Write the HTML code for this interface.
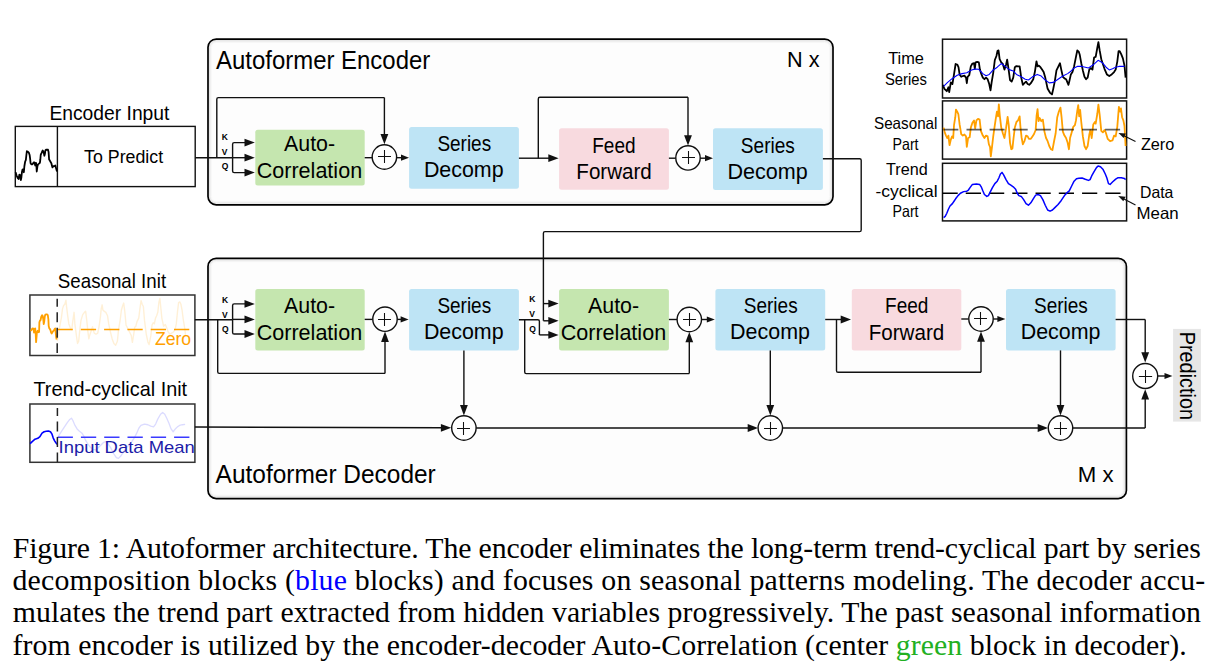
<!DOCTYPE html>
<html><head><meta charset="utf-8"><title>Autoformer</title><style>
html,body{margin:0;padding:0;background:#fff;width:1212px;height:667px;overflow:hidden;}
svg{display:block}
</style></head><body>
<svg width="1212" height="667" viewBox="0 0 1212 667">
<rect width="1212" height="667" fill="#fff"/>

<rect x="208" y="39.1" width="625.00" height="165.70" rx="8.2" fill="#fdfdfd"/>
<rect x="209.60" y="40.70" width="621.80" height="162.50" rx="6.60" fill="none" stroke="#000" stroke-opacity="0.1" stroke-width="1"/>
<rect x="210.60" y="41.70" width="619.80" height="160.50" rx="5.60" fill="none" stroke="#000" stroke-opacity="0.05" stroke-width="1"/>
<rect x="211.60" y="42.70" width="617.80" height="158.50" rx="4.60" fill="none" stroke="#000" stroke-opacity="0.02" stroke-width="1"/>
<rect x="208" y="39.1" width="625.00" height="165.70" rx="8.2" fill="none" stroke="#000" stroke-width="1.7"/>
<rect x="208" y="258.3" width="918.40" height="240.30" rx="8.2" fill="#fdfdfd"/>
<rect x="209.60" y="259.90" width="915.20" height="237.10" rx="6.60" fill="none" stroke="#000" stroke-opacity="0.1" stroke-width="1"/>
<rect x="210.60" y="260.90" width="913.20" height="235.10" rx="5.60" fill="none" stroke="#000" stroke-opacity="0.05" stroke-width="1"/>
<rect x="211.60" y="261.90" width="911.20" height="233.10" rx="4.60" fill="none" stroke="#000" stroke-opacity="0.02" stroke-width="1"/>
<rect x="208" y="258.3" width="918.40" height="240.30" rx="8.2" fill="none" stroke="#000" stroke-width="1.7"/>
<text x="216.00" y="69.00" font-size="24.86" textLength="214.26" lengthAdjust="spacingAndGlyphs" fill="#000" font-family='"Liberation Sans",sans-serif' font-weight="normal" >Autoformer Encoder</text>
<text x="786.98" y="66.80" font-size="21.22" textLength="32.52" lengthAdjust="spacingAndGlyphs" fill="#000" font-family='"Liberation Sans",sans-serif' font-weight="normal" >N x</text>
<text x="1077.75" y="481.80" font-size="21.22" textLength="35.84" lengthAdjust="spacingAndGlyphs" fill="#000" font-family='"Liberation Sans",sans-serif' font-weight="normal" >M x</text>
<text x="215.60" y="482.90" font-size="24.86" textLength="220.17" lengthAdjust="spacingAndGlyphs" fill="#000" font-family='"Liberation Sans",sans-serif' font-weight="normal" >Autoformer Decoder</text>
<text x="49.41" y="119.80" font-size="19.48" textLength="120.00" lengthAdjust="spacingAndGlyphs" fill="#000" font-family='"Liberation Sans",sans-serif' font-weight="normal" >Encoder Input</text>
<rect x="15.3" y="126.4" width="179.9" height="60.2" fill="#fff" stroke="#111" stroke-width="1.4"/>
<path d="M57.40,126.40 L57.40,186.60" fill="none" stroke="#111" stroke-width="1.4" stroke-linejoin="round" />
<text x="84.10" y="163.00" font-size="18.75" textLength="79.05" lengthAdjust="spacingAndGlyphs" fill="#000" font-family='"Liberation Sans",sans-serif' font-weight="normal" >To Predict</text>
<path d="M15.60,172.23 L16.50,175.23 L17.62,177.86 L18.60,178.98 L19.35,174.63 L19.87,177.11 L20.25,175.23 L20.85,180.10 L21.37,177.48 L21.90,172.23 L22.49,169.61 L23.24,169.24 L23.84,172.23 L24.37,166.24 L25.12,161.74 L25.87,159.87 L26.39,154.99 L26.84,151.24 L27.74,151.62 L28.87,152.74 L29.62,154.99 L30.14,158.74 L30.59,163.24 L31.34,164.36 L32.24,164.36 L32.99,163.61 L33.59,162.49 L34.49,162.49 L35.24,165.49 L35.99,162.86 L36.36,164.74 L36.74,171.48 L37.49,165.86 L38.09,164.36 L38.99,163.61 L39.89,162.86 L40.34,159.49 L40.71,154.99 L41.39,153.49 L41.99,151.99 L42.73,150.49 L43.33,151.62 L43.86,153.12 L44.38,155.74 L44.98,153.49 L45.36,150.49 L46.11,149.75 L47.23,149.60 L47.98,149.75 L48.58,151.99 L49.11,159.49 L49.86,160.61 L50.61,162.11 L51.36,163.24 L52.10,166.24 L52.48,167.36 L53.08,166.24 L53.98,166.24 L54.73,165.86 L55.33,165.49 L56.23,168.86 L56.98,171.48" fill="none" stroke="#000" stroke-width="1.8" stroke-linejoin="round"/>
<rect x="255.30" y="129.80" width="109.40" height="55.70" rx="2.5" fill="#c5e6af"/>
<text x="284.00" y="150.90" font-size="21.51" textLength="51.06" lengthAdjust="spacingAndGlyphs" fill="#000" font-family='"Liberation Sans",sans-serif' font-weight="normal" >Auto-</text>
<text x="256.70" y="177.60" font-size="21.51" textLength="105.46" lengthAdjust="spacingAndGlyphs" fill="#000" font-family='"Liberation Sans",sans-serif' font-weight="normal" >Correlation</text>
<rect x="409.10" y="127.10" width="109.80" height="61.70" rx="2.5" fill="#bee4f5"/>
<text x="437.40" y="150.80" font-size="21.51" textLength="53.76" lengthAdjust="spacingAndGlyphs" fill="#000" font-family='"Liberation Sans",sans-serif' font-weight="normal" >Series</text>
<text x="423.91" y="177.30" font-size="21.51" textLength="79.65" lengthAdjust="spacingAndGlyphs" fill="#000" font-family='"Liberation Sans",sans-serif' font-weight="normal" >Decomp</text>
<rect x="559.10" y="128.20" width="109.80" height="61.50" rx="2.5" fill="#f8dadf"/>
<text x="592.22" y="152.90" font-size="21.51" textLength="43.33" lengthAdjust="spacingAndGlyphs" fill="#000" font-family='"Liberation Sans",sans-serif' font-weight="normal" >Feed</text>
<text x="576.34" y="178.80" font-size="21.51" textLength="75.47" lengthAdjust="spacingAndGlyphs" fill="#000" font-family='"Liberation Sans",sans-serif' font-weight="normal" >Forward</text>
<rect x="713.00" y="128.20" width="109.90" height="61.70" rx="2.5" fill="#bee4f5"/>
<text x="740.80" y="153.20" font-size="21.51" textLength="54.07" lengthAdjust="spacingAndGlyphs" fill="#000" font-family='"Liberation Sans",sans-serif' font-weight="normal" >Series</text>
<text x="727.50" y="178.80" font-size="21.51" textLength="80.26" lengthAdjust="spacingAndGlyphs" fill="#000" font-family='"Liberation Sans",sans-serif' font-weight="normal" >Decomp</text>
<path d="M195.20,157.70 L232.60,157.70" fill="none" stroke="#111" stroke-width="1.4" stroke-linejoin="round" />
<path d="M232.60,157.70 L245.50,157.70" fill="none" stroke="#111" stroke-width="1.4" stroke-linejoin="round" />
<polygon points="254.80,157.70 244.50,153.80 244.50,161.60" fill="#111"/>
<path d="M232.60,157.70 L232.60,144.20 Q232.60,142.60 234.20,142.60 L245.50,142.60" fill="none" stroke="#111" stroke-width="1.4" stroke-linejoin="round" />
<polygon points="254.80,142.60 244.50,138.70 244.50,146.50" fill="#111"/>
<path d="M232.60,157.70 L232.60,171.00 Q232.60,172.60 234.20,172.60 L245.50,172.60" fill="none" stroke="#111" stroke-width="1.4" stroke-linejoin="round" />
<polygon points="254.80,172.60 244.50,168.70 244.50,176.50" fill="#111"/>
<path d="M216.80,157.70 L216.80,99.20 Q216.80,97.60 218.40,97.60 L384.40,97.60" fill="none" stroke="#111" stroke-width="1.4" stroke-linejoin="round" />
<path d="M384.40,97.60 L384.40,135.00" fill="none" stroke="#111" stroke-width="1.4" stroke-linejoin="round" />
<polygon points="384.40,144.30 380.50,134.00 388.30,134.00" fill="#111"/>
<path d="M364.70,157.70 L372.30,157.70" fill="none" stroke="#111" stroke-width="1.4" stroke-linejoin="round" />
<circle cx="384.40" cy="157.00" r="12.20" fill="#fff" stroke="#111" stroke-width="1.4"/>
<path d="M378.03,156.50 H390.97 M384.50,150.03 V162.97" stroke="#111" stroke-width="1.05"/>
<path d="M396.50,157.70 L402.00,157.70" fill="none" stroke="#111" stroke-width="1.4" stroke-linejoin="round" />
<polygon points="409.00,157.70 401.00,154.60 401.00,160.80" fill="#111"/>
<path d="M518.90,158.20 L549.30,158.20" fill="none" stroke="#111" stroke-width="1.4" stroke-linejoin="round" />
<polygon points="558.60,158.20 548.30,154.30 548.30,162.10" fill="#111"/>
<path d="M538.30,158.20 L538.30,98.90 Q538.30,97.30 539.90,97.30 L688.00,97.30" fill="none" stroke="#111" stroke-width="1.4" stroke-linejoin="round" />
<path d="M688.00,97.30 L688.00,136.20" fill="none" stroke="#111" stroke-width="1.4" stroke-linejoin="round" />
<polygon points="688.00,145.50 684.10,135.20 691.90,135.20" fill="#111"/>
<path d="M668.90,158.20 L675.80,158.20" fill="none" stroke="#111" stroke-width="1.4" stroke-linejoin="round" />
<circle cx="688.00" cy="157.90" r="12.20" fill="#fff" stroke="#111" stroke-width="1.4"/>
<path d="M682.03,157.50 H694.97 M688.50,151.03 V163.97" stroke="#111" stroke-width="1.05"/>
<path d="M700.20,158.20 L706.00,158.20" fill="none" stroke="#111" stroke-width="1.4" stroke-linejoin="round" />
<polygon points="713.00,158.20 705.00,155.10 705.00,161.30" fill="#111"/>
<path d="M822.90,158.70 L859.60,158.70 Q861.20,158.70 861.20,160.30 L861.20,230.00 Q861.20,231.60 859.60,231.60 L545.00,231.60 Q543.40,231.60 543.40,233.20 L543.40,320.80" fill="none" stroke="#111" stroke-width="1.4" stroke-linejoin="round" />
<text x="221.8" y="139.5" font-size="8.5" font-weight="bold" font-family='"Liberation Sans",sans-serif'>K</text>
<text x="221.8" y="154.5" font-size="8.5" font-weight="bold" font-family='"Liberation Sans",sans-serif'>V</text>
<text x="221.8" y="168.8" font-size="8.5" font-weight="bold" font-family='"Liberation Sans",sans-serif'>Q</text>
<rect x="942.5" y="39.2" width="184.1" height="58.8" fill="#fff" stroke="#111" stroke-width="1.5"/>
<rect x="942.5" y="100.9" width="184.1" height="58.2" fill="#fff" stroke="#111" stroke-width="1.5"/>
<rect x="942.5" y="163.3" width="184.1" height="57.6" fill="#fff" stroke="#111" stroke-width="1.5"/>
<path d="M942.80,84.82 L944.40,88.83 L946.80,91.23 L948.40,87.22 L949.21,92.03 L950.81,82.42 L952.41,84.02 L954.01,74.42 L955.61,64.01 L957.21,64.49 L958.49,67.21 L959.61,74.42 L961.21,76.82 L962.81,76.02 L964.41,75.70 L966.01,77.62 L966.81,83.22 L967.61,76.82 L969.21,75.22 L970.82,66.41 L972.42,63.53 L974.02,63.21 L974.82,68.82 L975.62,62.41 L977.22,61.93 L978.82,62.41 L979.94,69.62 L981.22,73.62 L982.82,77.62 L984.42,79.22 L986.02,77.62 L987.62,79.22 L989.22,84.02 L990.51,90.43 L991.63,82.42 L993.23,72.82 L994.83,60.01 L996.43,56.01 L997.55,50.73 L998.51,50.41 L999.63,59.21 L1001.23,62.41 L1002.83,64.01 L1004.43,69.62 L1006.03,64.81 L1007.15,59.69 L1008.43,68.02 L1010.03,80.02 L1011.64,81.62 L1013.24,77.62 L1014.84,67.21 L1016.44,66.09 L1018.04,66.41 L1019.64,66.41 L1021.24,77.62 L1022.84,84.82 L1024.44,83.22 L1026.04,81.62 L1027.64,84.02 L1029.24,84.82 L1030.84,83.22 L1033.25,79.22 L1034.85,72.02 L1036.45,61.29 L1037.57,66.41 L1038.85,65.61 L1040.45,67.21 L1042.05,69.62 L1043.65,72.02 L1045.25,77.62 L1047.65,88.83 L1050.05,92.83 L1051.97,94.43 L1053.26,88.83 L1054.86,80.82 L1056.46,70.42 L1058.06,67.21 L1059.98,63.21 L1061.26,69.62 L1062.86,76.82 L1064.46,78.42 L1066.06,79.22 L1068.46,84.82 L1069.26,81.62 L1070.86,74.42 L1072.46,72.02 L1074.07,66.41 L1075.67,58.41 L1077.27,50.41 L1078.87,52.01 L1079.67,54.41 L1081.27,63.21 L1082.87,70.42 L1084.47,76.82 L1086.07,79.22 L1087.67,77.62 L1089.27,69.62 L1090.87,68.02 L1092.47,69.62 L1094.07,57.61 L1095.68,56.81 L1097.28,48.01 L1098.40,42.08 L1099.68,50.41 L1101.28,59.21 L1102.88,64.01 L1104.48,68.82 L1106.88,74.42 L1109.28,76.02 L1111.68,74.42 L1114.08,72.02 L1115.69,69.62 L1117.29,61.61 L1118.57,51.21 L1119.69,51.21 L1121.29,54.41 L1122.89,58.41 L1124.49,65.61 L1125.61,77.62" fill="none" stroke="#000" stroke-width="1.8" stroke-linejoin="round"/>
<path d="M943.60,86.42 L947.60,82.42 L952.41,78.42 L957.21,75.22 L962.01,73.62 L966.81,72.82 L971.62,69.94 L974.82,69.14 L978.82,69.30 L982.82,73.62 L986.02,75.70 L989.22,74.42 L993.23,69.94 L997.23,67.21 L1001.23,63.53 L1005.23,66.41 L1009.23,69.62 L1013.24,70.90 L1016.44,74.42 L1021.24,76.82 L1025.24,79.22 L1028.44,80.02 L1032.45,76.82 L1037.25,74.42 L1041.25,76.02 L1045.25,80.02 L1049.25,82.90 L1053.26,82.42 L1058.06,79.22 L1062.86,76.02 L1067.66,73.62 L1070.86,71.22 L1074.07,68.02 L1077.27,66.41 L1082.07,66.41 L1088.47,68.02 L1093.27,64.81 L1098.08,60.33 L1102.08,62.41 L1106.08,67.21 L1109.28,69.94 L1112.48,68.82 L1115.69,67.21 L1118.89,66.41 L1124.49,66.41" fill="none" stroke="#0000ff" stroke-width="1.1" stroke-linejoin="round"/>
<path d="M943.60,127.61 L944.72,132.42 L946.00,135.62 L947.28,138.02 L948.40,135.62 L949.53,145.22 L950.81,139.62 L952.09,136.42 L953.21,138.02 L954.01,125.21 L955.29,117.21 L955.93,109.53 L957.21,111.61 L958.33,114.01 L959.61,124.41 L961.21,134.02 L962.81,135.62 L964.41,134.50 L966.01,136.42 L966.81,146.82 L968.09,138.02 L969.70,137.22 L970.82,127.61 L972.42,122.81 L974.02,120.41 L975.14,128.41 L976.42,120.41 L978.02,118.81 L979.62,119.61 L980.90,130.82 L982.82,135.62 L984.42,138.02 L986.02,135.62 L987.62,136.42 L988.90,144.42 L990.02,146.82 L990.83,156.43 L992.11,146.02 L993.23,136.42 L994.35,128.41 L995.63,119.61 L996.91,111.61 L998.03,116.41 L998.83,104.40 L999.79,115.61 L1001.23,127.61 L1002.83,133.22 L1004.43,138.02 L1006.03,128.41 L1007.63,116.89 L1008.75,125.21 L1010.03,142.82 L1011.32,149.22 L1012.44,148.42 L1013.56,138.02 L1014.84,127.61 L1016.44,122.01 L1018.04,120.41 L1019.64,116.41 L1020.44,126.81 L1021.56,137.22 L1022.84,144.42 L1024.44,141.22 L1026.04,135.62 L1027.64,136.42 L1028.92,138.82 L1030.84,138.82 L1032.45,136.42 L1034.05,134.02 L1035.65,130.02 L1036.61,115.61 L1037.57,109.21 L1038.53,121.21 L1039.65,118.01 L1041.25,121.21 L1042.85,119.61 L1044.45,131.62 L1046.05,138.02 L1047.65,141.22 L1049.25,146.02 L1050.85,149.22 L1052.45,150.02 L1054.06,141.22 L1055.66,133.22 L1057.26,117.21 L1058.86,111.61 L1060.46,107.60 L1061.58,117.21 L1062.86,131.62 L1064.46,135.62 L1066.06,138.02 L1067.66,142.82 L1068.94,149.22 L1070.06,138.02 L1071.66,132.42 L1073.26,126.81 L1074.87,125.21 L1075.99,120.41 L1077.27,110.81 L1078.23,105.20 L1079.19,116.41 L1080.15,110.01 L1081.27,122.01 L1082.87,136.42 L1084.47,146.02 L1086.07,149.22 L1087.67,146.02 L1089.27,134.82 L1090.39,130.02 L1091.67,138.02 L1093.27,124.41 L1094.88,122.01 L1095.68,123.61 L1097.28,114.01 L1098.40,104.72 L1099.68,114.81 L1101.28,130.82 L1102.88,132.42 L1104.48,130.02 L1105.76,132.42 L1107.68,138.82 L1110.08,141.22 L1112.48,140.42 L1114.08,135.62 L1115.69,136.42 L1117.29,126.81 L1118.89,106.80 L1120.01,111.61 L1120.97,108.40 L1122.09,117.21 L1123.37,120.41 L1124.49,126.01 L1125.61,146.02" fill="none" stroke="#ffa000" stroke-width="1.8" stroke-linejoin="round"/>
<path d="M943.4,129.7 H1121" stroke="#000" stroke-opacity="0.62" stroke-width="1.8" stroke-dasharray="15 8.1"/>
<path d="M942.5,193.2 H1121.5" stroke="#000" stroke-width="1.4" stroke-dasharray="15.2 8.06"/>
<path d="M943.60,217.55 L945.20,216.43 L946.80,213.23 L948.40,209.22 L950.01,206.02 L952.41,203.62 L954.01,201.22 L955.61,198.82 L958.01,195.62 L960.41,193.22 L963.61,191.62 L966.81,191.14 L968.41,190.02 L970.02,187.61 L972.42,184.41 L976.42,183.93 L979.62,184.41 L981.22,186.81 L982.82,190.82 L984.42,194.50 L986.82,196.42 L988.42,195.62 L990.02,192.42 L992.43,187.61 L994.83,183.61 L997.23,181.21 L998.83,178.01 L1000.43,174.01 L1002.03,172.41 L1003.63,174.81 L1006.03,179.61 L1008.43,183.61 L1010.83,185.21 L1013.24,186.81 L1015.64,189.21 L1017.24,193.22 L1018.84,195.62 L1021.24,196.42 L1023.64,199.62 L1026.04,203.62 L1028.44,205.22 L1030.84,202.82 L1033.25,198.82 L1035.65,195.14 L1038.05,194.50 L1040.45,195.62 L1042.85,199.62 L1045.25,205.22 L1047.65,210.02 L1050.05,211.15 L1052.45,210.02 L1054.86,207.62 L1058.06,204.42 L1061.26,200.42 L1064.46,195.62 L1066.86,192.90 L1069.26,190.82 L1071.66,186.01 L1074.07,181.21 L1076.47,178.81 L1078.87,178.33 L1082.07,178.01 L1085.27,179.29 L1088.47,180.41 L1090.07,179.61 L1091.67,175.93 L1094.07,171.61 L1096.48,167.60 L1098.08,166.00 L1100.48,166.80 L1102.88,169.21 L1105.28,174.01 L1106.88,178.01 L1108.48,183.61 L1110.08,184.41 L1112.48,182.01 L1115.69,179.13 L1118.09,177.69 L1121.29,177.69 L1124.49,178.49 L1125.61,179.61" fill="none" stroke="#0000ff" stroke-width="1.5" stroke-linejoin="round"/>
<text x="888.20" y="63.70" font-size="16.28" textLength="35.75" lengthAdjust="spacingAndGlyphs" fill="#000" font-family='"Liberation Sans",sans-serif' font-weight="normal" >Time</text>
<text x="885.00" y="84.50" font-size="16.28" textLength="41.92" lengthAdjust="spacingAndGlyphs" fill="#000" font-family='"Liberation Sans",sans-serif' font-weight="normal" >Series</text>
<text x="874.00" y="129.00" font-size="16.28" textLength="63.47" lengthAdjust="spacingAndGlyphs" fill="#000" font-family='"Liberation Sans",sans-serif' font-weight="normal" >Seasonal</text>
<text x="892.53" y="149.70" font-size="16.28" textLength="26.05" lengthAdjust="spacingAndGlyphs" fill="#000" font-family='"Liberation Sans",sans-serif' font-weight="normal" >Part</text>
<text x="886.00" y="175.00" font-size="16.28" textLength="41.64" lengthAdjust="spacingAndGlyphs" fill="#000" font-family='"Liberation Sans",sans-serif' font-weight="normal" >Trend</text>
<text x="875.40" y="196.60" font-size="16.28" textLength="62.16" lengthAdjust="spacingAndGlyphs" fill="#000" font-family='"Liberation Sans",sans-serif' font-weight="normal" >-cyclical</text>
<text x="892.53" y="217.20" font-size="16.28" textLength="26.05" lengthAdjust="spacingAndGlyphs" fill="#000" font-family='"Liberation Sans",sans-serif' font-weight="normal" >Part</text>
<text x="1140.90" y="149.70" font-size="16.28" textLength="33.45" lengthAdjust="spacingAndGlyphs" fill="#000" font-family='"Liberation Sans",sans-serif' font-weight="normal" >Zero</text>
<text x="1140.03" y="197.60" font-size="16.28" textLength="33.34" lengthAdjust="spacingAndGlyphs" fill="#000" font-family='"Liberation Sans",sans-serif' font-weight="normal" >Data</text>
<text x="1136.56" y="218.70" font-size="16.28" textLength="42.12" lengthAdjust="spacingAndGlyphs" fill="#000" font-family='"Liberation Sans",sans-serif' font-weight="normal" >Mean</text>
<path d="M1135.50,141.50 L1124.00,135.70" fill="none" stroke="#111" stroke-width="1.2" stroke-linejoin="round" />
<polygon points="1118.5,133 1125.9,133.6 1123.6,138.1" fill="#111"/>
<path d="M1135.50,205.00 L1124.00,199.00" fill="none" stroke="#111" stroke-width="1.2" stroke-linejoin="round" />
<polygon points="1118.2,196 1125.6,196.8 1123.3,201.2" fill="#111"/>
<text x="57.80" y="287.80" font-size="19.48" textLength="108.33" lengthAdjust="spacingAndGlyphs" fill="#000" font-family='"Liberation Sans",sans-serif' font-weight="normal" >Seasonal Init</text>
<rect x="29.9" y="295" width="165" height="60.5" fill="#fff" stroke="#333" stroke-width="1.5"/>
<text x="33.40" y="396.00" font-size="19.62" textLength="153.74" lengthAdjust="spacingAndGlyphs" fill="#000" font-family='"Liberation Sans",sans-serif' font-weight="normal" >Trend-cyclical Init</text>
<rect x="29.9" y="404" width="165" height="58.3" fill="#fff" stroke="#333" stroke-width="1.5"/>
<path d="M57.31,341.21 L58.47,333.12 L60.20,323.88 L61.35,318.10 L62.51,308.86 L63.66,305.40 L64.82,304.24 L65.97,300.20 L66.55,306.55 L67.71,315.79 L68.86,323.88 L70.59,328.50 L71.75,329.65 L72.90,320.41 L74.06,312.33 L74.87,323.88 L76.37,335.43 L77.53,343.52 L78.68,341.21 L79.84,329.65 L80.99,320.41 L82.72,314.64 L84.46,312.33 L85.61,311.17 L86.77,320.41 L87.92,331.96 L88.85,338.90 L89.65,335.43 L90.81,331.96 L92.54,326.77 L93.12,329.65 L94.27,333.12 L96.01,334.27 L97.74,333.12 L98.90,327.34 L100.28,318.10 L101.21,308.86 L102.13,304.82 L102.94,310.02 L104.09,311.17 L105.83,312.33 L107.56,315.79 L108.71,323.88 L110.45,331.96 L112.18,338.90 L113.91,343.52 L115.64,345.25 L117.38,341.21 L118.53,329.65 L120.27,319.26 L121.42,310.02 L122.58,305.97 L123.73,303.09 L124.89,312.33 L126.04,325.03 L127.77,328.50 L129.51,331.96 L131.24,335.43 L132.39,342.36 L133.55,335.43 L134.70,327.34 L135.86,326.19 L137.01,321.57 L138.75,318.10 L139.90,308.86 L141.06,300.78 L142.21,304.24 L143.37,306.55 L144.52,320.41 L146.26,334.27 L147.99,342.36 L149.14,344.67 L150.88,335.43 L152.03,325.03 L153.19,322.72 L154.34,323.88 L155.50,318.10 L156.65,315.79 L157.81,312.33 L158.96,301.93 L159.89,298.47 L160.69,306.55 L161.85,318.10 L163.58,326.19 L165.32,324.46 L166.47,327.34 L168.20,331.96 L169.94,334.27 L171.67,333.12 L173.40,331.96 L175.13,329.65 L176.29,323.88 L177.44,312.33 L178.60,302.51 L179.75,301.93 L180.91,304.24 L182.06,310.02 L183.22,319.26 L184.95,329.65 L185.53,335.43" fill="none" stroke="#ffa000" stroke-opacity="0.16" stroke-width="1.4" stroke-linejoin="round"/>
<path d="M30.40,330.79 L31.30,330.19 L32.20,328.69 L33.10,328.39 L33.70,329.59 L34.00,332.59 L34.60,328.99 L35.20,328.39 L35.68,333.79 L36.10,342.18 L36.40,338.58 L36.88,332.59 L37.60,330.79 L38.49,332.29 L39.09,331.99 L39.39,322.39 L39.99,320.59 L40.59,319.99 L41.19,316.99 L42.09,315.19 L42.69,315.79 L43.29,319.39 L43.71,324.19 L44.19,321.79 L44.79,316.39 L45.39,314.60 L46.29,314.30 L47.19,314.48 L47.79,315.19 L48.39,319.39 L48.69,325.99 L49.29,328.39 L49.89,328.99 L50.49,330.19 L51.09,332.59 L51.69,333.49 L52.29,332.59 L52.89,331.39 L53.49,330.79 L54.09,330.19 L54.69,328.99 L55.29,328.39 L55.71,332.59 L56.19,337.38 L56.67,339.48" fill="none" stroke="#ffa000" stroke-width="1.8" stroke-linejoin="round"/>
<path d="M57.5,329.5 H190.5" stroke="#ffa000" stroke-width="1.4" stroke-dasharray="15.3 8"/>
<path d="M57.2,298.8 V353" stroke="#222" stroke-width="1.5" stroke-dasharray="10 5.5" stroke-dashoffset="2"/>
<text x="154.90" y="344.80" font-size="17.73" textLength="36.26" lengthAdjust="spacingAndGlyphs" fill="#ffa000" font-family='"Liberation Sans",sans-serif' font-weight="normal" >Zero</text>
<path d="M58.16,436.67 L61.67,431.05 L64.47,426.85 L67.28,422.64 L69.38,419.83 L71.48,418.15 L72.89,420.53 L74.99,425.44 L77.10,428.95 L79.20,431.05 L82.00,433.16 L84.11,436.67 L85.51,440.17 L87.62,443.68 L89.72,446.48 L92.53,449.29 L95.33,449.99 L98.14,447.89 L100.94,445.08 L103.75,442.28 L105.85,441.57 L107.96,443.68 L110.76,447.89 L113.57,453.50 L116.37,457.71 L118.48,458.41 L120.58,456.30 L123.39,452.10 L126.19,447.89 L129.00,445.08 L131.80,441.57 L134.61,437.37 L136.71,433.16 L138.81,428.25 L140.92,425.44 L144.43,424.04 L147.93,424.74 L150.74,426.14 L153.54,426.85 L155.65,424.04 L157.75,419.13 L160.56,414.22 L162.66,412.54 L164.77,414.22 L166.87,418.43 L168.97,423.34 L171.08,428.95 L173.18,431.76 L175.29,428.95 L177.39,426.85 L179.49,425.44 L182.30,424.74 L185.10,424.32" fill="none" stroke="#2020ff" stroke-opacity="0.16" stroke-width="1.3" stroke-linejoin="round"/>
<path d="M30.10,443.68 L32.21,441.57 L35.01,439.19 L37.82,438.35 L39.92,436.67 L42.03,433.16 L44.13,431.76 L46.24,431.33 L48.34,431.05 L50.44,431.76 L51.85,433.86 L53.25,438.07 L54.65,440.87 L56.05,442.98 L57.46,444.38" fill="none" stroke="#0000ff" stroke-width="1.6" stroke-linejoin="round"/>
<path d="M57.6,437.3 H190.5" stroke="#3a3aff" stroke-width="1.4" stroke-dasharray="15.3 8"/>
<path d="M57.4,407.9 V462" stroke="#222" stroke-width="1.5" stroke-dasharray="10 5.5" stroke-dashoffset="2"/>
<text x="58.52" y="453.20" font-size="17.15" textLength="136.25" lengthAdjust="spacingAndGlyphs" fill="#1c1ca8" font-family='"Liberation Sans",sans-serif' font-weight="normal" >Input Data Mean</text>
<rect x="255.30" y="289.00" width="109.40" height="61.40" rx="2.5" fill="#c5e6af"/>
<text x="284.00" y="312.90" font-size="21.51" textLength="51.06" lengthAdjust="spacingAndGlyphs" fill="#000" font-family='"Liberation Sans",sans-serif' font-weight="normal" >Auto-</text>
<text x="256.70" y="339.60" font-size="21.51" textLength="105.46" lengthAdjust="spacingAndGlyphs" fill="#000" font-family='"Liberation Sans",sans-serif' font-weight="normal" >Correlation</text>
<rect x="409.10" y="289.00" width="109.80" height="61.40" rx="2.5" fill="#bee4f5"/>
<text x="437.40" y="312.90" font-size="21.51" textLength="53.76" lengthAdjust="spacingAndGlyphs" fill="#000" font-family='"Liberation Sans",sans-serif' font-weight="normal" >Series</text>
<text x="423.91" y="339.30" font-size="21.51" textLength="79.65" lengthAdjust="spacingAndGlyphs" fill="#000" font-family='"Liberation Sans",sans-serif' font-weight="normal" >Decomp</text>
<rect x="559.10" y="289.00" width="109.80" height="61.40" rx="2.5" fill="#c5e6af"/>
<text x="588.00" y="312.90" font-size="21.51" textLength="51.06" lengthAdjust="spacingAndGlyphs" fill="#000" font-family='"Liberation Sans",sans-serif' font-weight="normal" >Auto-</text>
<text x="560.70" y="339.60" font-size="21.51" textLength="105.46" lengthAdjust="spacingAndGlyphs" fill="#000" font-family='"Liberation Sans",sans-serif' font-weight="normal" >Correlation</text>
<rect x="715.40" y="289.00" width="109.80" height="61.40" rx="2.5" fill="#bee4f5"/>
<text x="743.80" y="312.90" font-size="21.51" textLength="53.86" lengthAdjust="spacingAndGlyphs" fill="#000" font-family='"Liberation Sans",sans-serif' font-weight="normal" >Series</text>
<text x="730.10" y="339.30" font-size="21.51" textLength="79.85" lengthAdjust="spacingAndGlyphs" fill="#000" font-family='"Liberation Sans",sans-serif' font-weight="normal" >Decomp</text>
<rect x="851.80" y="289.00" width="109.50" height="61.40" rx="2.5" fill="#f8dadf"/>
<text x="885.02" y="312.90" font-size="21.51" textLength="43.33" lengthAdjust="spacingAndGlyphs" fill="#000" font-family='"Liberation Sans",sans-serif' font-weight="normal" >Feed</text>
<text x="868.74" y="339.70" font-size="21.51" textLength="75.47" lengthAdjust="spacingAndGlyphs" fill="#000" font-family='"Liberation Sans",sans-serif' font-weight="normal" >Forward</text>
<rect x="1006.00" y="289.00" width="109.60" height="61.40" rx="2.5" fill="#bee4f5"/>
<text x="1034.00" y="312.90" font-size="21.51" textLength="53.86" lengthAdjust="spacingAndGlyphs" fill="#000" font-family='"Liberation Sans",sans-serif' font-weight="normal" >Series</text>
<text x="1020.70" y="339.30" font-size="21.51" textLength="79.75" lengthAdjust="spacingAndGlyphs" fill="#000" font-family='"Liberation Sans",sans-serif' font-weight="normal" >Decomp</text>
<path d="M194.90,319.80 L232.60,319.80" fill="none" stroke="#111" stroke-width="1.4" stroke-linejoin="round" />
<path d="M232.60,319.40 L245.50,319.40" fill="none" stroke="#111" stroke-width="1.4" stroke-linejoin="round" />
<polygon points="254.80,319.40 244.50,315.50 244.50,323.30" fill="#111"/>
<path d="M232.60,319.40 L232.60,305.50 Q232.60,303.90 234.20,303.90 L245.50,303.90" fill="none" stroke="#111" stroke-width="1.4" stroke-linejoin="round" />
<polygon points="254.80,303.90 244.50,300.00 244.50,307.80" fill="#111"/>
<path d="M232.60,319.40 L232.60,332.40 Q232.60,334.00 234.20,334.00 L245.50,334.00" fill="none" stroke="#111" stroke-width="1.4" stroke-linejoin="round" />
<polygon points="254.80,334.00 244.50,330.10 244.50,337.90" fill="#111"/>
<path d="M217.70,319.40 L217.70,371.80 Q217.70,373.40 219.30,373.40 L385.00,373.40" fill="none" stroke="#111" stroke-width="1.4" stroke-linejoin="round" />
<path d="M385.00,373.40 L385.00,340.90" fill="none" stroke="#111" stroke-width="1.4" stroke-linejoin="round" />
<polygon points="385.00,331.60 381.10,341.90 388.90,341.90" fill="#111"/>
<path d="M364.70,319.40 L372.70,319.40" fill="none" stroke="#111" stroke-width="1.4" stroke-linejoin="round" />
<circle cx="385.00" cy="319.20" r="12.20" fill="#fff" stroke="#111" stroke-width="1.4"/>
<path d="M378.03,319.50 H390.97 M384.50,313.03 V325.97" stroke="#111" stroke-width="1.05"/>
<path d="M397.30,319.40 L401.60,319.40" fill="none" stroke="#111" stroke-width="1.4" stroke-linejoin="round" />
<polygon points="408.60,319.40 400.60,316.30 400.60,322.50" fill="#111"/>
<text x="222" y="302.5" font-size="8.5" font-weight="bold" font-family='"Liberation Sans",sans-serif'>K</text>
<text x="222" y="317.5" font-size="8.5" font-weight="bold" font-family='"Liberation Sans",sans-serif'>V</text>
<text x="222" y="332" font-size="8.5" font-weight="bold" font-family='"Liberation Sans",sans-serif'>Q</text>
<path d="M518.90,319.70 L537.80,319.70 Q539.40,319.70 539.40,321.30 L539.40,334.90" fill="none" stroke="#111" stroke-width="1.4" stroke-linejoin="round" />
<path d="M539.40,334.90 L549.30,334.90" fill="none" stroke="#111" stroke-width="1.4" stroke-linejoin="round" />
<polygon points="558.60,334.90 548.30,331.00 548.30,338.80" fill="#111"/>
<path d="M524.70,319.50 L524.70,372.00 Q524.70,373.60 526.30,373.60 L689.30,373.60" fill="none" stroke="#111" stroke-width="1.4" stroke-linejoin="round" />
<path d="M689.30,373.60 L689.30,341.20" fill="none" stroke="#111" stroke-width="1.4" stroke-linejoin="round" />
<polygon points="689.30,331.90 685.40,342.20 693.20,342.20" fill="#111"/>
<path d="M543.40,303.60 L549.30,303.60" fill="none" stroke="#111" stroke-width="1.4" stroke-linejoin="round" />
<polygon points="558.60,303.60 548.30,299.70 548.30,307.50" fill="#111"/>
<path d="M543.40,320.80 L549.30,320.80" fill="none" stroke="#111" stroke-width="1.4" stroke-linejoin="round" />
<polygon points="558.60,320.80 548.30,316.90 548.30,324.70" fill="#111"/>
<text x="529.3" y="302" font-size="8.5" font-weight="bold" font-family='"Liberation Sans",sans-serif'>K</text>
<text x="529.3" y="316.6" font-size="8.5" font-weight="bold" font-family='"Liberation Sans",sans-serif'>V</text>
<text x="529.3" y="332" font-size="8.5" font-weight="bold" font-family='"Liberation Sans",sans-serif'>Q</text>
<path d="M668.90,319.50 L677.00,319.50" fill="none" stroke="#111" stroke-width="1.4" stroke-linejoin="round" />
<circle cx="689.30" cy="319.50" r="12.20" fill="#fff" stroke="#111" stroke-width="1.4"/>
<path d="M683.03,319.50 H695.97 M689.50,313.03 V325.97" stroke="#111" stroke-width="1.05"/>
<path d="M701.50,319.50 L707.80,319.50" fill="none" stroke="#111" stroke-width="1.4" stroke-linejoin="round" />
<polygon points="714.80,319.50 706.80,316.40 706.80,322.60" fill="#111"/>
<path d="M825.20,319.50 L841.70,319.50" fill="none" stroke="#111" stroke-width="1.4" stroke-linejoin="round" />
<polygon points="851.00,319.50 840.70,315.60 840.70,323.40" fill="#111"/>
<path d="M836.50,319.50 L836.50,370.70 Q836.50,372.30 838.10,372.30 L981.00,372.30" fill="none" stroke="#111" stroke-width="1.4" stroke-linejoin="round" />
<path d="M981.00,372.30 L981.00,340.80" fill="none" stroke="#111" stroke-width="1.4" stroke-linejoin="round" />
<polygon points="981.00,331.50 977.10,341.80 984.90,341.80" fill="#111"/>
<path d="M961.30,319.00 L968.60,319.00" fill="none" stroke="#111" stroke-width="1.4" stroke-linejoin="round" />
<circle cx="981.00" cy="319.00" r="12.20" fill="#fff" stroke="#111" stroke-width="1.4"/>
<path d="M974.03,318.50 H986.97 M980.50,312.03 V324.97" stroke="#111" stroke-width="1.05"/>
<path d="M993.20,319.00 L998.40,319.00" fill="none" stroke="#111" stroke-width="1.4" stroke-linejoin="round" />
<polygon points="1005.40,319.00 997.40,315.90 997.40,322.10" fill="#111"/>
<path d="M1115.60,319.50 L1145.20,319.50" fill="none" stroke="#111" stroke-width="1.4" stroke-linejoin="round" />
<path d="M1145.20,319.50 L1145.20,353.30" fill="none" stroke="#111" stroke-width="1.4" stroke-linejoin="round" />
<polygon points="1145.20,362.60 1141.30,352.30 1149.10,352.30" fill="#111"/>
<path d="M194.90,427.00 L441.90,427.80" fill="none" stroke="#111" stroke-width="1.4" stroke-linejoin="round" />
<polygon points="451.20,427.80 440.90,423.90 440.90,431.70" fill="#111"/>
<path d="M463.90,350.40 L463.90,406.10" fill="none" stroke="#111" stroke-width="1.4" stroke-linejoin="round" />
<polygon points="463.90,415.40 460.00,405.10 467.80,405.10" fill="#111"/>
<circle cx="463.90" cy="428.00" r="12.20" fill="#fff" stroke="#111" stroke-width="1.4"/>
<path d="M457.03,428.50 H469.97 M463.50,422.03 V434.97" stroke="#111" stroke-width="1.05"/>
<path d="M476.20,428.00 L748.70,428.00" fill="none" stroke="#111" stroke-width="1.4" stroke-linejoin="round" />
<polygon points="758.00,428.00 747.70,424.10 747.70,431.90" fill="#111"/>
<path d="M770.30,350.40 L770.30,406.10" fill="none" stroke="#111" stroke-width="1.4" stroke-linejoin="round" />
<polygon points="770.30,415.40 766.40,405.10 774.20,405.10" fill="#111"/>
<circle cx="770.30" cy="428.00" r="12.20" fill="#fff" stroke="#111" stroke-width="1.4"/>
<path d="M764.03,428.50 H776.97 M770.50,422.03 V434.97" stroke="#111" stroke-width="1.05"/>
<path d="M782.60,428.00 L1038.70,428.00" fill="none" stroke="#111" stroke-width="1.4" stroke-linejoin="round" />
<polygon points="1048.00,428.00 1037.70,424.10 1037.70,431.90" fill="#111"/>
<path d="M1060.50,350.40 L1060.50,406.10" fill="none" stroke="#111" stroke-width="1.4" stroke-linejoin="round" />
<polygon points="1060.50,415.40 1056.60,405.10 1064.40,405.10" fill="#111"/>
<circle cx="1060.50" cy="428.00" r="12.20" fill="#fff" stroke="#111" stroke-width="1.4"/>
<path d="M1054.03,428.50 H1066.97 M1060.50,422.03 V434.97" stroke="#111" stroke-width="1.05"/>
<path d="M1072.80,428.00 L1145.20,428.00" fill="none" stroke="#111" stroke-width="1.4" stroke-linejoin="round" />
<path d="M1145.20,428.00 L1145.20,398.60" fill="none" stroke="#111" stroke-width="1.4" stroke-linejoin="round" />
<polygon points="1145.20,389.30 1141.30,399.60 1149.10,399.60" fill="#111"/>
<circle cx="1145.20" cy="376.00" r="12.50" fill="#fff" stroke="#111" stroke-width="1.4"/>
<path d="M1138.88,376.50 H1152.12 M1145.50,369.88 V383.12" stroke="#111" stroke-width="1.05"/>
<path d="M1157.70,376.00 L1165.50,376.00" fill="none" stroke="#111" stroke-width="1.4" stroke-linejoin="round" />
<polygon points="1172.50,376.00 1164.50,372.90 1164.50,379.10" fill="#111"/>
<rect x="1173.1" y="328.9" width="27.8" height="92.7" fill="#e6e6e6"/>
<text x="0" y="0" font-size="21.8" textLength="88.33" lengthAdjust="spacingAndGlyphs" font-family='"Liberation Sans",sans-serif' transform="translate(1180.0,331.69) rotate(90)">Prediction</text>
<text x="12.8" y="557.9" font-size="29.8" textLength="1188.0" lengthAdjust="spacing" font-family='"Liberation Serif",serif' fill="#000">Figure 1: Autoformer architecture. The encoder eliminates the long-term trend-cyclical part by series</text>
<text x="12.5" y="589.6" font-size="29.8" textLength="1192.7" lengthAdjust="spacing" font-family='"Liberation Serif",serif' fill="#000">decomposition blocks (<tspan fill="#0000ff">blue</tspan> blocks) and focuses on seasonal patterns modeling. The decoder accu-</text>
<text x="12.8" y="622.3" font-size="29.8" textLength="1188.2" lengthAdjust="spacing" font-family='"Liberation Serif",serif' fill="#000">mulates the trend part extracted from hidden variables progressively. The past seasonal information</text>
<text x="12.5" y="655.4" font-size="29.8" textLength="1174.2" lengthAdjust="spacing" font-family='"Liberation Serif",serif' fill="#000">from encoder is utilized by the encoder-decoder Auto-Correlation (center <tspan fill="#22b022">green</tspan> block in decoder).</text>
</svg></body></html>
